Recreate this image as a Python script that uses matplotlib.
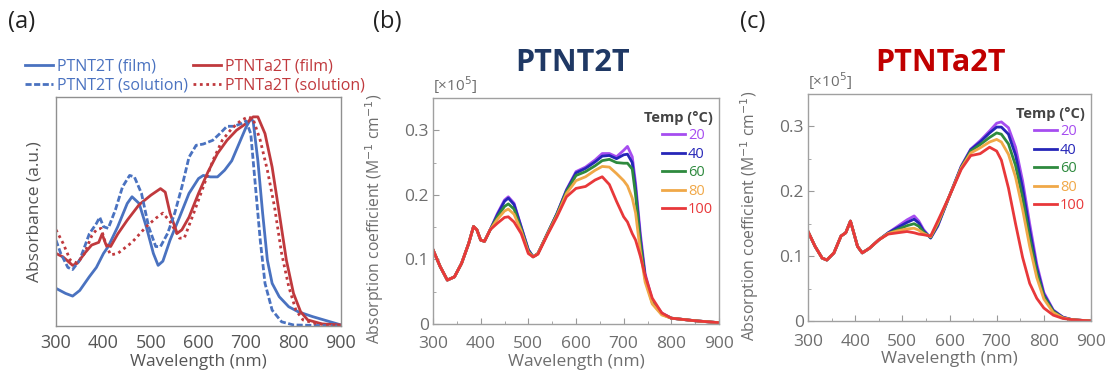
import matplotlib
matplotlib.use("Agg")
import matplotlib.pyplot as plt
import numpy as np
from matplotlib.ticker import MultipleLocator

plt.rcParams['font.family'] = ['Open Sans', 'DejaVu Sans']

# ---------------- Panel (a): normalized absorbance ----------------
a_nt_film_x = [300, 320, 335, 350, 370, 385, 400, 410, 430, 450, 460, 475, 490, 505, 515, 525, 540, 560, 580, 600,
               610, 625, 640, 655, 670, 685, 700, 710, 715, 725, 735, 745, 755, 770, 790, 810, 840, 870, 900]
a_nt_film_y = [0.18, 0.156, 0.143, 0.17, 0.235, 0.28, 0.347, 0.38, 0.475, 0.586, 0.618, 0.586, 0.475, 0.347, 0.29,
               0.31, 0.41, 0.52, 0.634, 0.705, 0.72, 0.713, 0.713, 0.745, 0.79, 0.87, 0.95, 0.99, 0.98, 0.79, 0.54,
               0.315, 0.204, 0.14, 0.092, 0.068, 0.045, 0.025, 0.005]

a_nt_sol_x = [300, 310, 325, 335, 350, 370, 385, 392, 400, 410, 425, 440, 455, 465, 480, 495, 510, 520, 535, 550,
              565, 580, 595, 610, 630, 645, 660, 675, 690, 700, 710, 720, 730, 740, 755, 775, 800, 900]
a_nt_sol_y = [0.41, 0.347, 0.28, 0.27, 0.315, 0.44, 0.49, 0.52, 0.475, 0.467, 0.555, 0.665, 0.72, 0.713, 0.634,
              0.475, 0.38, 0.38, 0.443, 0.54, 0.665, 0.807, 0.864, 0.87, 0.888, 0.92, 0.955, 0.955, 0.968, 0.98,
              0.92, 0.665, 0.41, 0.204, 0.076, 0.02, 0.005, 0.0]

a_nta_film_x = [300, 315, 335, 345, 360, 375, 390, 397, 405, 415, 430, 450, 475, 500, 520, 530, 540, 555, 565, 580,
                600, 620, 640, 660, 680, 700, 715, 725, 740, 755, 770, 785, 800, 815, 830, 860, 900]
a_nta_film_y = [0.347, 0.33, 0.29, 0.30, 0.347, 0.387, 0.40, 0.44, 0.39, 0.38, 0.44, 0.506, 0.58, 0.626, 0.657,
                0.64, 0.54, 0.443, 0.46, 0.52, 0.634, 0.737, 0.825, 0.888, 0.936, 0.968, 1.0, 1.0, 0.92, 0.76, 0.54,
                0.315, 0.156, 0.068, 0.029, 0.01, 0.005]

a_nta_sol_x = [300, 315, 330, 345, 360, 375, 385, 395, 405, 415, 430, 460, 490, 510, 525, 540, 550, 560, 570, 590,
               610, 630, 650, 670, 690, 705, 715, 730, 745, 760, 775, 790, 805, 820, 850, 900]
a_nta_sol_y = [0.46, 0.395, 0.315, 0.30, 0.347, 0.43, 0.46, 0.467, 0.39, 0.34, 0.347, 0.40, 0.475, 0.515, 0.54,
               0.50, 0.46, 0.42, 0.42, 0.54, 0.665, 0.79, 0.888, 0.944, 0.984, 1.0, 0.99, 0.888, 0.745, 0.57, 0.347,
               0.188, 0.076, 0.029, 0.01, 0.0]

a_labels = ["PTNT2T (film)", "PTNTa2T (film)", "PTNT2T (solution)", "PTNTa2T (solution)"]

# ---------------- Panel (b): PTNT2T temperature series ----------------
temps = ["20", "40", "60", "80", "100"]

b_x = [300, 315, 330, 345, 360, 375, 385, 392, 400, 408, 420, 435, 450, 458, 470, 485, 500, 510, 520, 540, 560,
       580, 600, 620, 640, 655, 670, 685, 700, 708, 718, 725, 735, 745, 760, 780, 800, 850, 900]
b_20 = [0.115, 0.089, 0.068, 0.073, 0.094, 0.125, 0.151, 0.146, 0.130, 0.128, 0.146, 0.171, 0.192, 0.197, 0.187,
        0.151, 0.115, 0.104, 0.109, 0.140, 0.171, 0.208, 0.236, 0.243, 0.254, 0.264, 0.264, 0.259, 0.269, 0.275,
        0.259, 0.218, 0.140, 0.078, 0.037, 0.017, 0.009, 0.005, 0.002]
b_40 = [0.115, 0.089, 0.068, 0.073, 0.094, 0.125, 0.151, 0.146, 0.130, 0.128, 0.146, 0.169, 0.190, 0.195, 0.185,
        0.150, 0.115, 0.104, 0.109, 0.140, 0.171, 0.207, 0.234, 0.241, 0.251, 0.260, 0.261, 0.256, 0.262, 0.263,
        0.250, 0.210, 0.132, 0.074, 0.035, 0.016, 0.009, 0.005, 0.002]
b_60 = [0.115, 0.089, 0.068, 0.073, 0.094, 0.125, 0.151, 0.146, 0.130, 0.128, 0.146, 0.166, 0.182, 0.186, 0.178,
        0.147, 0.113, 0.104, 0.109, 0.140, 0.170, 0.205, 0.230, 0.236, 0.245, 0.253, 0.255, 0.250, 0.249, 0.249,
        0.240, 0.200, 0.125, 0.070, 0.033, 0.015, 0.009, 0.005, 0.002]
b_80 = [0.115, 0.089, 0.068, 0.073, 0.094, 0.125, 0.151, 0.146, 0.130, 0.128, 0.146, 0.162, 0.175, 0.178, 0.170,
        0.144, 0.111, 0.104, 0.109, 0.139, 0.168, 0.202, 0.222, 0.228, 0.238, 0.244, 0.243, 0.233, 0.222, 0.214,
        0.195, 0.172, 0.112, 0.065, 0.031, 0.014, 0.009, 0.005, 0.002]
b_100 = [0.115, 0.089, 0.068, 0.073, 0.094, 0.125, 0.151, 0.146, 0.130, 0.128, 0.146, 0.156, 0.165, 0.166, 0.158,
         0.140, 0.109, 0.104, 0.108, 0.138, 0.166, 0.197, 0.210, 0.213, 0.223, 0.228, 0.216, 0.190, 0.166, 0.158,
         0.140, 0.130, 0.105, 0.075, 0.040, 0.017, 0.009, 0.005, 0.002]

# ---------------- Panel (c): PTNTa2T temperature series ----------------
c_x = [300, 315, 330, 340, 355, 370, 380, 390, 397, 405, 415, 430, 450, 470, 490, 510, 525, 535, 545, 560, 575,
       600, 625, 645, 665, 685, 700, 710, 725, 740, 755, 770, 785, 800, 820, 840, 860, 900]
c_20 = [0.138, 0.115, 0.097, 0.094, 0.105, 0.131, 0.136, 0.154, 0.136, 0.115, 0.105, 0.112, 0.125, 0.136, 0.146,
        0.156, 0.162, 0.154, 0.141, 0.128, 0.146, 0.193, 0.239, 0.265, 0.278, 0.293, 0.305, 0.307, 0.298, 0.268,
        0.216, 0.150, 0.088, 0.044, 0.017, 0.006, 0.002, 0.0]
c_40 = [0.138, 0.115, 0.097, 0.094, 0.105, 0.131, 0.136, 0.154, 0.136, 0.115, 0.105, 0.112, 0.125, 0.136, 0.144,
        0.152, 0.157, 0.151, 0.139, 0.128, 0.147, 0.193, 0.238, 0.264, 0.276, 0.290, 0.299, 0.299, 0.288, 0.256,
        0.205, 0.140, 0.082, 0.041, 0.016, 0.006, 0.002, 0.0]
c_60 = [0.138, 0.115, 0.097, 0.094, 0.105, 0.131, 0.136, 0.154, 0.136, 0.115, 0.105, 0.112, 0.125, 0.135, 0.141,
        0.147, 0.150, 0.146, 0.137, 0.129, 0.149, 0.193, 0.237, 0.262, 0.272, 0.283, 0.290, 0.288, 0.273, 0.240,
        0.190, 0.128, 0.075, 0.038, 0.015, 0.005, 0.002, 0.0]
c_80 = [0.138, 0.115, 0.097, 0.094, 0.105, 0.131, 0.136, 0.154, 0.136, 0.115, 0.105, 0.112, 0.125, 0.135, 0.139,
        0.142, 0.143, 0.140, 0.135, 0.130, 0.151, 0.193, 0.236, 0.259, 0.267, 0.276, 0.280, 0.276, 0.257, 0.222,
        0.172, 0.115, 0.067, 0.034, 0.013, 0.005, 0.002, 0.0]
c_100 = [0.138, 0.115, 0.097, 0.094, 0.105, 0.131, 0.136, 0.154, 0.136, 0.115, 0.105, 0.112, 0.125, 0.134, 0.136,
         0.138, 0.136, 0.134, 0.133, 0.131, 0.154, 0.193, 0.234, 0.255, 0.258, 0.268, 0.262, 0.248, 0.205, 0.150,
         0.098, 0.058, 0.035, 0.020, 0.009, 0.004, 0.002, 0.0]

temp_colors = ["#a64df0", "#2626b8", "#2e8a3e", "#f0a848", "#e8383a"]
blue = "#4a72c0"
red = "#c0393d"
gray_txt = "#555555"
light_txt = "#6e6e6e"

fig = plt.figure(figsize=(11.1, 3.72), dpi=100)
W, H = 1110, 372


def add_ax(l, r, t, b):
    return fig.add_axes([l / W, (H - b) / H, (r - l) / W, (b - t) / H])


# ---- (a)
axa = add_ax(56, 341, 97, 326)
la1, = axa.plot(a_nt_film_x, a_nt_film_y, color=blue, lw=2.0)
la2, = axa.plot(a_nta_film_x, a_nta_film_y, color=red, lw=2.0)
la3, = axa.plot(a_nt_sol_x, a_nt_sol_y, color=blue, lw=2.0, ls=(0, (2.2, 0.9)))
la4, = axa.plot(a_nta_sol_x, a_nta_sol_y, color=red, lw=2.0, ls=(0, (1.0, 1.3)))
axa.set_xlim(300, 900)
axa.set_ylim(0, 1.095)
axa.set_yticks([])
axa.set_xticks([300, 400, 500, 600, 700, 800, 900])
axa.tick_params(axis='x', labelsize=13, colors=gray_txt, length=0, pad=6)
for s in axa.spines.values():
    s.set_color("#909090")
    s.set_linewidth(1.0)
axa.set_xlabel("Wavelength (nm)", fontsize=12.5, color=gray_txt, labelpad=1)
axa.set_ylabel("Absorbance (a.u.)", fontsize=12.5, color=gray_txt, labelpad=10)
leg = axa.legend([la1, la3, la2, la4], [a_labels[0], a_labels[2], a_labels[1], a_labels[3]],
                 ncol=2, loc='lower left', bbox_to_anchor=(-0.12, 1.0), frameon=False, fontsize=11.5,
                 handlelength=1.75, handletextpad=0.25, columnspacing=0.3, labelspacing=0.2,
                 borderaxespad=0.1, borderpad=0.1)
for t, c in zip(leg.get_texts(), [blue, blue, red, red]):
    t.set_color(c)


def temp_panel(ax, x, series):
    for ys, c, lab in zip(series, temp_colors, temps):
        ax.plot(x, ys, color=c, lw=2.0, label=lab)
    ax.set_xlim(300, 900)
    ax.set_ylim(0, 0.35)
    ax.set_xticks([300, 400, 500, 600, 700, 800, 900])
    ax.set_yticks([0, 0.1, 0.2, 0.3])
    ax.set_yticklabels(["0", "0.1", "0.2", "0.3"])
    ax.xaxis.set_minor_locator(MultipleLocator(50))
    ax.yaxis.set_minor_locator(MultipleLocator(0.05))
    ax.tick_params(which='both', direction='in', colors="#9a9a9a", labelcolor=light_txt, labelsize=12.5)
    ax.tick_params(which='major', length=4)
    ax.tick_params(which='minor', length=2)
    ax.tick_params(axis='x', pad=9)
    ax.tick_params(axis='y', pad=3)
    for s in ax.spines.values():
        s.set_color("#a0a0a0")
        s.set_linewidth(1.0)
    ax.set_xlabel("Wavelength (nm)", fontsize=12.5, color=light_txt, labelpad=1)
    ax.set_ylabel("Absorption coefficient (M$^{-1}$ cm$^{-1}$)", fontsize=11.3, color=light_txt)
    ax.yaxis.set_label_coords(-0.165, 0.465)
    ax.text(0.0, 1.01, "[×10$^5$]", transform=ax.transAxes, fontsize=11, color=light_txt, ha='left', va='bottom')
    lg = ax.legend(loc='upper right', bbox_to_anchor=(1.0, 0.97), frameon=False, title="Temp (°C)",
                   fontsize=10.5, handlelength=1.6, handletextpad=0.2, labelspacing=0.24,
                   borderaxespad=0.2, borderpad=0.2)
    lg.get_title().set_fontsize(10.5)
    lg.get_title().set_fontweight('bold')
    lg.get_title().set_color("#444444")
    lg._legend_box.align = "right"
    for t, c in zip(lg.get_texts(), temp_colors):
        t.set_color(c)


axb = add_ax(433, 719, 98, 324)
temp_panel(axb, b_x, [b_20, b_40, b_60, b_80, b_100])
axc = add_ax(808, 1091, 94, 321)
temp_panel(axc, c_x, [c_20, c_40, c_60, c_80, c_100])

fig.text(573 / W, 1 - 63 / H, "PTNT2T", fontsize=22, fontweight='bold', color="#1f3864", ha='center', va='center')
fig.text(940 / W, 1 - 63 / H, "PTNTa2T", fontsize=22, fontweight='bold', color="#c00000", ha='center', va='center')

fig.text(8 / W, 1 - 22 / H, "(a)", fontsize=17, color="#222222", ha='left', va='center')
fig.text(373 / W, 1 - 22 / H, "(b)", fontsize=17, color="#222222", ha='left', va='center')
fig.text(740 / W, 1 - 22 / H, "(c)", fontsize=17, color="#222222", ha='left', va='center')

fig.savefig("out.png", dpi=100)
